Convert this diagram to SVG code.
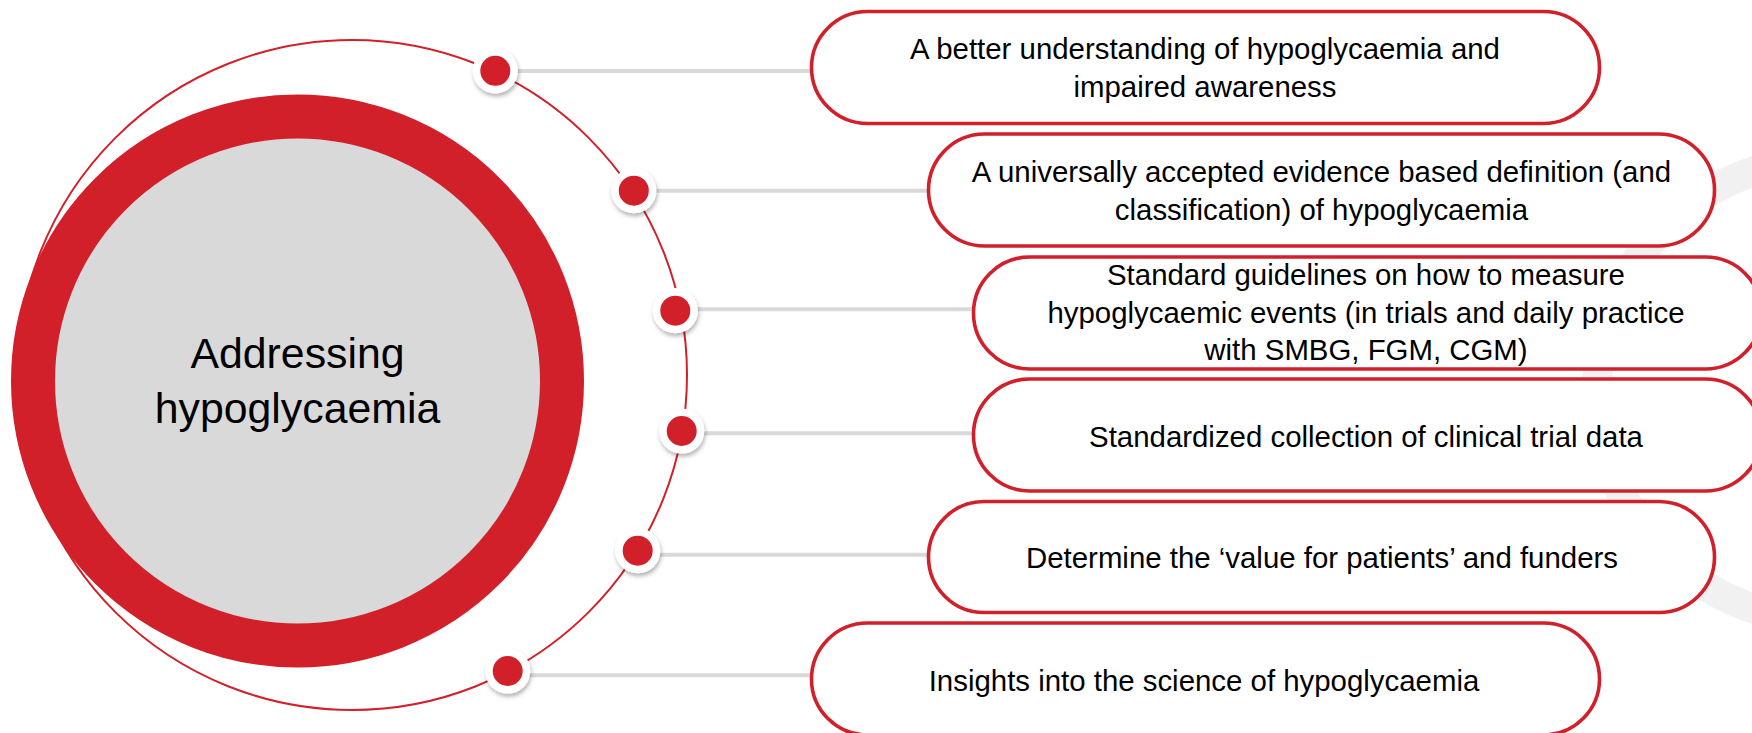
<svg xmlns="http://www.w3.org/2000/svg" width="1752" height="733" viewBox="0 0 1752 733">
  <defs>
    <style>
      .box { fill: #ffffff; stroke: #d2202a; stroke-width: 3.6; }
      .label { font-family: "Liberation Sans", Arial, sans-serif; font-size: 29.4px; fill: #000000; text-anchor: middle; }
      .title { font-family: "Liberation Sans", Arial, sans-serif; font-size: 42.8px; fill: #000000; text-anchor: middle; }
      .link { stroke: #d9d9d9; stroke-width: 4; fill: none; }
      .dot-bg { fill: #ffffff; filter: url(#shadow); }
      .dot { fill: #d2202a; }
    </style>
    <filter id="shadow" x="-50%" y="-50%" width="200%" height="200%">
      <feDropShadow dx="1" dy="3" stdDeviation="2.2" flood-color="#000000" flood-opacity="0.3"/>
    </filter>
  </defs>

  <rect x="0" y="0" width="1752" height="733" fill="#ffffff"/>

  <!-- faint decorative arc behind the right-hand boxes -->
  <circle cx="1828" cy="390" r="231" fill="none" stroke="#f1f1f1" stroke-width="30"/>

  <!-- thin orbit carrying the markers -->
  <circle id="orbit" cx="352" cy="375" r="335" fill="none" stroke="#d2202a" stroke-width="2"/>

  <!-- central node -->
  <g id="node-center">
    <circle cx="297.5" cy="381" r="264.5" fill="#d9d9d9" stroke="#d2202a" stroke-width="44"/>
    <text class="title" x="297.5" y="367.5">Addressing</text>
    <text class="title" x="297.5" y="423">hypoglycaemia</text>
  </g>

  <!-- connectors: grey leaders from the orbit to each item -->
  <g id="connectors">
    <line class="link" x1="495" y1="71" x2="812" y2="71"/>
    <line class="link" x1="634" y1="190.7" x2="929" y2="190.7"/>
    <line class="link" x1="675" y1="309.3" x2="974" y2="309.3"/>
    <line class="link" x1="682" y1="433.3" x2="974" y2="433.3"/>
    <line class="link" x1="638" y1="554.7" x2="929" y2="554.7"/>
    <line class="link" x1="508" y1="675.3" x2="812" y2="675.3"/>
    <g id="markers">
      <circle class="dot-bg" cx="495.3" cy="70.8" r="22.6"/>
      <circle class="dot" cx="495.3" cy="70.8" r="15"/>
      <circle class="dot-bg" cx="633.8" cy="190.7" r="22.6"/>
      <circle class="dot" cx="633.8" cy="190.7" r="15"/>
      <circle class="dot-bg" cx="675.3" cy="310.7" r="22.6"/>
      <circle class="dot" cx="675.3" cy="310.7" r="15"/>
      <circle class="dot-bg" cx="681.7" cy="431" r="22.6"/>
      <circle class="dot" cx="681.7" cy="431" r="15"/>
      <circle class="dot-bg" cx="637.7" cy="550.7" r="22.6"/>
      <circle class="dot" cx="637.7" cy="550.7" r="15"/>
      <circle class="dot-bg" cx="507.7" cy="671" r="22.6"/>
      <circle class="dot" cx="507.7" cy="671" r="15"/>
    </g>
  </g>

  <!-- item nodes -->
  <g id="node-1">
    <rect class="box" x="811.5" y="11.5" width="788" height="112" rx="56" ry="56"/>
    <text class="label" x="1205" y="59.3">A better understanding of hypoglycaemia and</text>
    <text class="label" x="1205" y="97">impaired awareness</text>
  </g>

  <g id="node-2">
    <rect class="box" x="928.5" y="134" width="786" height="112" rx="56" ry="56"/>
    <text class="label" x="1321.5" y="182.3">A universally accepted evidence based definition (and</text>
    <text class="label" x="1321.5" y="219.7">classification) of hypoglycaemia</text>
  </g>

  <g id="node-3">
    <rect class="box" x="973.5" y="257" width="788" height="112" rx="56" ry="56"/>
    <text class="label" x="1366" y="285.2">Standard guidelines on how to measure</text>
    <text class="label" x="1366" y="322.6">hypoglycaemic events (in trials and daily practice</text>
    <text class="label" x="1366" y="360">with SMBG, FGM, CGM)</text>
  </g>

  <g id="node-4">
    <rect class="box" x="973.5" y="379" width="788" height="112" rx="56" ry="56"/>
    <text class="label" x="1366" y="446.5">Standardized collection of clinical trial data</text>
  </g>

  <g id="node-5">
    <rect class="box" x="928.5" y="501.5" width="786" height="111" rx="55.5" ry="55.5"/>
    <text class="label" x="1322" y="568">Determine the ‘value for patients’ and funders</text>
  </g>

  <g id="node-6">
    <rect class="box" x="811.5" y="623" width="788" height="112" rx="56" ry="56"/>
    <text class="label" x="1204" y="691">Insights into the science of hypoglycaemia</text>
  </g>
</svg>
